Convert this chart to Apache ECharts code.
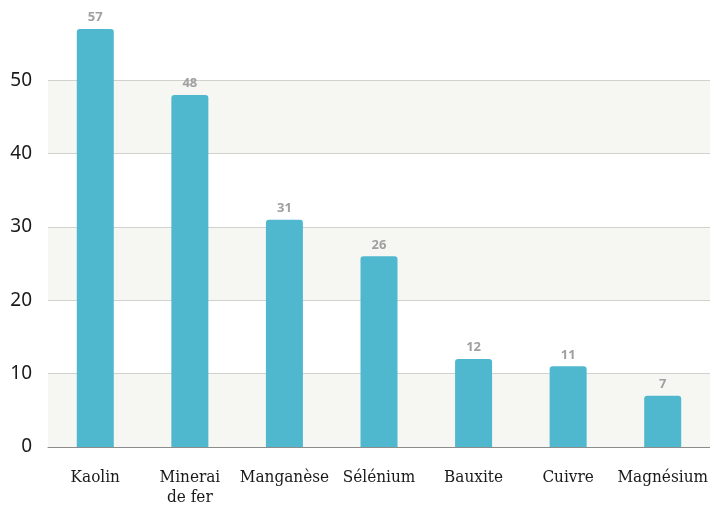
<!DOCTYPE html>
<html>
<head>
<meta charset="utf-8">
<script src="https://cdn.jsdelivr.net/npm/echarts@6/dist/echarts.min.js"></script>
<style>
    html, body { margin: 0; padding: 0; background: #fff; }
    #chart { width: 710px; height: 508px; }
</style>
</head>
<body>
<div id="chart"></div>
<script>
var categories = ['Kaolin', 'Minerai\nde fer', 'Manganèse', 'Sélénium', 'Bauxite', 'Cuivre', 'Magnésium'];
var values = [57, 48, 31, 26, 12, 11, 7];
var yTicks = [0, 10, 20, 30, 40, 50];

var chart = echarts.init(document.getElementById('chart'));
chart.setOption({
    animation: false,
    grid: {
        left: 48,
        right: 0,
        top: 7,
        bottom: 61,
        containLabel: false,
        outerBoundsMode: 'none'
    },
    xAxis: {
        type: 'category',
        data: categories,
        axisLine: {
            lineStyle: { color: '#8c8c8c', width: 1 }
        },
        axisTick: {
            length: 10,
            lineStyle: { color: '#8c8c8c' }
        },
        axisLabel: {
            interval: 0,
            margin: 21,
            color: '#1a1a1a',
            fontSize: 17,
            lineHeight: 20,
            fontFamily: 'DejaVu Serif Condensed, DejaVu Serif, serif'
        }
    },
    yAxis: {
        type: 'value',
        min: 0,
        max: 60,
        interval: 10,
        axisLine: { show: false },
        axisTick: { show: false },
        axisLabel: {
            margin: 16,
            color: '#1a1a1a',
            fontSize: 19,
            fontFamily: 'Noto Sans, sans-serif',
            formatter: function (v) {
                return yTicks.indexOf(v) >= 0 ? String(v) : '';
            }
        },
        splitLine: {
            show: true,
            lineStyle: {
                color: ['#d2d2cc', '#d2d2cc', '#d2d2cc', '#d2d2cc', '#d2d2cc', '#d2d2cc', 'rgba(0,0,0,0)'],
                width: 1
            }
        },
        splitArea: {
            show: true,
            areaStyle: {
                color: ['#f6f6f2', 'rgba(255,255,255,0)']
            }
        }
    },
    series: [{
        type: 'bar',
        data: values,
        barWidth: 37,
        itemStyle: {
            color: '#4fb8cf',
            borderRadius: [3, 3, 0, 0]
        },
        label: {
            show: true,
            position: 'top',
            distance: 5,
            color: '#a0a0a0',
            fontSize: 13,
            fontWeight: 'bold',
            fontFamily: 'Noto Sans, sans-serif'
        }
    }]
});
</script>
</body>
</html>
